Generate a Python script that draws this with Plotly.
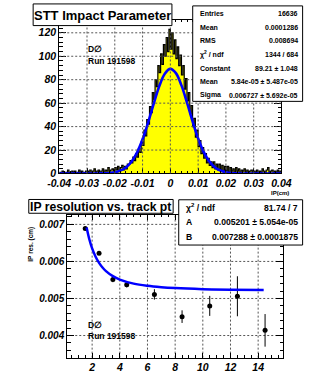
import plotly.graph_objects as go
import numpy as np

W, H = 321, 377

# ---------------- data: top panel (STT impact parameter histogram) ----------------
hist_range = (-0.04, 0.04)
hist_counts = [
    1, 0, 2, 1, 0, 1, 3, 1, 0, 2,
    1, 2, 0, 1, 3, 1, 2, 0, 1, 2,
    2, 1, 3, 1, 2, 4, 1, 2, 3, 1,
    2, 4, 1, 3, 2, 5, 2, 3, 4, 2,
    5, 3, 6, 2, 5, 7, 3, 6, 4, 8,
    8, 11, 9, 14, 11, 17, 14, 21, 18, 27,
    24, 37, 32, 46, 42, 57, 52, 69, 63, 80,
    74, 92, 86, 102, 93, 110, 100, 116, 104, 123,
    106, 120, 102, 114, 98, 108, 92, 101, 84, 92,
    72, 81, 62, 69, 51, 58, 40, 47, 31, 37,
    23, 28, 17, 22, 13, 17, 9, 13, 7, 10,
    5, 10, 4, 8, 3, 8, 3, 7, 2, 6,
    2, 6, 1, 5, 2, 4, 1, 5, 2, 4,
    1, 3, 2, 4, 1, 3, 0, 2, 3, 1,
    2, 1, 3, 0, 2, 1, 4, 2, 1, 3,
    5, 1, 2, 3, 0, 2, 1, 3, 1, 2,
]
gauss_x = [-0.040, -0.038, -0.036, -0.034, -0.032, -0.030, -0.028, -0.026, -0.024,
           -0.022, -0.020, -0.018, -0.016, -0.014, -0.012, -0.010, -0.008, -0.006,
           -0.004, -0.002, 0.000, 0.002, 0.004, 0.006, 0.008, 0.010, 0.012, 0.014,
           0.016, 0.018, 0.020, 0.022, 0.024, 0.026, 0.028, 0.030, 0.032, 0.034,
           0.036, 0.038, 0.040]
gauss_y = [0, 0, 0, 0, 0, 0.002, 0.01, 0.05, 0.15,
           0.41, 1.05, 2.43, 5.16, 10.05, 17.90, 29.17, 43.53, 59.47,
           74.36, 85.13, 89.20, 85.57, 75.14, 60.39, 44.44, 29.93, 18.46, 10.42,
           5.38, 2.55, 1.10, 0.44, 0.16, 0.05, 0.01, 0, 0, 0,
           0, 0, 0]
ip_xticks = [-0.04, -0.03, -0.02, -0.01, 0.0, 0.01, 0.02, 0.03, 0.04]
ip_xticklabels = ["-0.04", "-0.03", "-0.02", "-0.01", "0", "0.01", "0.02", "0.03", "0.04"]
ip_yticks = [0, 20, 40, 60, 80, 100, 120]
ip_title = "STT Impact Parameter"
ip_xtitle = "IP(cm)"
ip_stat_labels = ["Entries", "Mean", "RMS", "\u03c7<sup>2</sup> / ndf", "Constant", "Mean", "Sigma"]
ip_stat_values = ["16636", "0.0001286", "0.008694", "1344 / 684", "89.21 \u00b1 1.048",
                  "5.84e-05 \u00b1 5.487e-05", "0.006727 \u00b1 5.692e-05"]

# ---------------- data: bottom panel (IP resolution vs pt) ----------------
pt = [1.5, 2.5, 3.5, 4.5, 6.5, 8.5, 10.5, 12.5, 14.5]
res = [0.00689, 0.00622, 0.00551, 0.00537, 0.00511, 0.00451, 0.00480, 0.00506, 0.00414]
res_err = [0.00004, 0.00004, 0.00007, 0.00007, 0.00014, 0.00017, 0.00027, 0.00054, 0.00044]
fit_pt = [1.6, 1.8, 2.0, 2.25, 2.5, 2.75, 3.0, 3.5, 4.0, 5.0, 6.0, 7.0, 8.0, 10.0, 12.0, 14.4]
fit_res = [0.006914, 0.006591, 0.006351, 0.006127, 0.005962, 0.005837, 0.005740, 0.005602,
           0.005511, 0.005401, 0.005341, 0.005304, 0.005280, 0.005252, 0.005236, 0.005226]
res_xticks = [2, 4, 6, 8, 10, 12, 14]
res_yticks = [0.004, 0.005, 0.006, 0.007]
res_yticklabels = ["0.004", "0.005", "0.006", "0.007"]
res_title = "IP resolution vs. track pt"
res_ytitle = "IP res. (cm)"
res_stat_labels = ["\u03c7<sup>2</sup> / ndf", "A", "B"]
res_stat_values = ["81.74 / 7", "0.005201 \u00b1 5.054e-05", "0.007288 \u00b1 0.0001875"]
run_text = ["D\u2205", "Run 191598"]

# ---------------- helpers ----------------
FONT = "Liberation Sans, Arial, Helvetica, sans-serif"


def px(x):
    return x / W


def py(y):
    return 1 - y / H


fig = go.Figure()

# histogram drawn as filled step line
edges = np.linspace(hist_range[0], hist_range[1], len(hist_counts) + 1)
fig.add_trace(go.Scatter(
    x=edges, y=list(hist_counts) + [hist_counts[-1]],
    mode="lines", line=dict(shape="hv", color="black", width=1.2),
    fill="tozeroy", fillcolor="#ffff00", xaxis="x", yaxis="y", hoverinfo="skip"))
fig.add_trace(go.Scatter(
    x=gauss_x, y=gauss_y, mode="lines",
    line=dict(color="#0000ff", width=2.6, shape="spline"), xaxis="x", yaxis="y"))

# resolution graph
fig.add_trace(go.Scatter(
    x=pt, y=res, mode="markers",
    marker=dict(color="black", size=5),
    error_y=dict(type="data", array=res_err, color="black", thickness=1, width=0),
    xaxis="x2", yaxis="y2"))
fig.add_trace(go.Scatter(
    x=fit_pt, y=fit_res, mode="lines",
    line=dict(color="#0000ff", width=2.5, shape="spline"), xaxis="x2", yaxis="y2"))

tickfont = dict(family=FONT, size=10.5, color="black", weight="bold", style="italic")


def axis(domain, rng, tickvals, ticktext, anchor, ticklen, minor_dtick, minor_len, font):
    return dict(domain=domain, range=rng, tickmode="array", tickvals=tickvals,
                ticktext=ticktext, anchor=anchor, ticks="inside", ticklen=ticklen,
                tickcolor="black", tickwidth=1, showline=True, linecolor="black",
                linewidth=1, mirror="ticks", showgrid=False, zeroline=False,
                layer="above traces", tickfont=font,
                minor=dict(dtick=minor_dtick, ticks="inside", ticklen=minor_len,
                           tickcolor="black", tickwidth=1, showgrid=False))


layout = dict(
    width=W, height=H, margin=dict(l=0, r=0, t=0, b=0),
    paper_bgcolor="white", plot_bgcolor="white", showlegend=False,
    xaxis=axis([px(50.7), px(289.3)], [-0.04, 0.04], ip_xticks, ip_xticklabels,
               "y", 5, 0.002, 2.5, tickfont),
    yaxis=axis([py(176.3), py(20)], [0, 131.2], ip_yticks, [str(v) for v in ip_yticks],
               "x", 7, 4, 3.5, tickfont),
    xaxis2=axis([px(59.3), px(291)], [0.2, 15.8], res_xticks, [str(v) for v in res_xticks],
                "y2", 5, 0.5, 2.5, tickfont),
    yaxis2=axis([py(363.4), py(218)], [0.003404, 0.007266], res_yticks, res_yticklabels,
                "x2", 7, 0.0002, 3.5, dict(tickfont, size=10)),
)
fig.update_layout(**layout)

shapes = []
grid_line = dict(color="#555555", width=1, dash="2px,2px")
# grid lines at major ticks (inside the frame only)
for v in ip_xticks:
    if hist_range[0] < v < hist_range[1]:
        shapes.append(dict(type="line", xref="x", yref="y domain", x0=v, x1=v, y0=0, y1=1,
                           line=grid_line, layer="above"))
for v in ip_yticks:
    if 0 < v < 131.2:
        shapes.append(dict(type="line", xref="x domain", yref="y", x0=0, x1=1, y0=v, y1=v,
                           line=grid_line, layer="above"))
for v in res_xticks:
    shapes.append(dict(type="line", xref="x2", yref="y2 domain", x0=v, x1=v, y0=0, y1=1,
                       line=grid_line, layer="below"))
for v in res_yticks:
    shapes.append(dict(type="line", xref="x2 domain", yref="y2", x0=0, x1=1, y0=v, y1=v,
                       line=grid_line, layer="below"))


def box(x0, y0, x1, y1):
    shapes.append(dict(type="rect", xref="paper", yref="paper",
                       x0=px(x0), x1=px(x1), y0=py(y1), y1=py(y0),
                       line=dict(color="black", width=1), fillcolor="white", layer="above"))


box(22.7, 4, 171.7, 26)      # top title
box(194, 6, 312, 103)        # top stats
box(18, 202.7, 173, 216.7)   # bottom title
box(179, 203, 312, 249)      # bottom stats
fig.update_layout(shapes=shapes)

ann = []


def text(x, y, s, size, xanchor="left", angle=0):
    ann.append(dict(x=px(x), y=py(y), xref="paper", yref="paper", text=s, showarrow=False,
                    xanchor=xanchor, yanchor="middle", textangle=angle,
                    font=dict(family=FONT, size=size, color="black", weight="bold")))


text(97.2, 15.5, ip_title, 13, "center")
text(95.5, 210, res_title, 12.2, "center")
for i, (l, v) in enumerate(zip(ip_stat_labels, ip_stat_values)):
    y = 13.9 + 13.8 * i
    text(200, y, l, 7)
    text(309, y, v, 7, "right")
for i, (l, v) in enumerate(zip(res_stat_labels, res_stat_values)):
    y = 211 + 15 * i
    text(185, y, l, 8.6)
    text(309, y, v, 8.6, "right")
text(300, 196, ip_xtitle, 6, "right")
text(20, 248, res_ytitle, 6.5, "center", -90)
text(79, 50, run_text[0], 8.5)
text(79, 62, run_text[1], 8.5)
text(79, 330, run_text[0], 8.5)
text(79, 341, run_text[1], 8.5)
fig.update_layout(annotations=ann)

fig.write_html("out.html", config={"displayModeBar": False})
